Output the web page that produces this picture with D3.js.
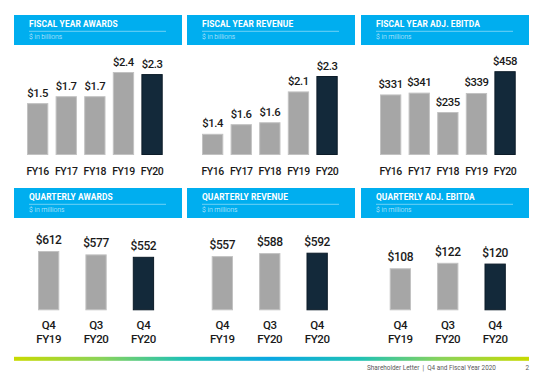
<!DOCTYPE html>
<html>
<head>
<meta charset="utf-8">
<script src="https://cdn.jsdelivr.net/npm/d3@7"></script>
<style>
  html, body { margin: 0; padding: 0; background: #ffffff; }
  svg { display: block; font-family: Roboto, "Noto Sans", sans-serif; }
</style>
</head>
<body>
<svg id="chart" width="549" height="381"></svg>
<script>
// ---------- data ----------
const fyCategories = ["FY16", "FY17", "FY18", "FY19", "FY20"];
const qCategories = ["Q4 FY19", "Q3 FY20", "Q4 FY20"];

const fyAwards = [1.50, 1.70, 1.70, 2.40, 2.34];
const fyAwardsLabels = ["$1.5", "$1.7", "$1.7", "$2.4", "$2.3"];

const fyRevenue = [1.40, 1.55, 1.58, 2.06, 2.30];
const fyRevenueLabels = ["$1.4", "$1.6", "$1.6", "$2.1", "$2.3"];

const fyEbitda = [331, 341, 235, 339, 458];
const fyEbitdaLabels = ["$331", "$341", "$235", "$339", "$458"];

const qAwards = [612, 577, 552];
const qAwardsLabels = ["$612", "$577", "$552"];

const qRevenue = [557, 588, 592];
const qRevenueLabels = ["$557", "$588", "$592"];

const qEbitda = [108, 122, 120];
const qEbitdaLabels = ["$108", "$122", "$120"];

const titles = ["FISCAL YEAR AWARDS", "FISCAL YEAR REVENUE", "FISCAL YEAR ADJ. EBITDA",
                "QUARTERLY AWARDS", "QUARTERLY REVENUE", "QUARTERLY ADJ. EBITDA"];
const subtitles = ["$ in billions", "$ in billions", "$ in millions",
                   "$ in millions", "$ in millions", "$ in millions"];

// ---------- layout ----------
const panels = [
  { cats: fyCategories, values: fyAwards,  labels: fyAwardsLabels,  px: 14,  py: 15,  barX0: 27,    dMin: 0,    topY: 72 },
  { cats: fyCategories, values: fyRevenue, labels: fyRevenueLabels, px: 187, py: 15,  barX0: 202,   dMin: 1.07, topY: 76 },
  { cats: fyCategories, values: fyEbitda,  labels: fyEbitdaLabels,  px: 361, py: 15,  barX0: 380,   dMin: 0,    topY: 71.2 },
  { cats: qCategories,  values: qAwards,   labels: qAwardsLabels,   px: 14,  py: 188, barX0: 38,    dMin: 0,    topY: 251 },
  { cats: qCategories,  values: qRevenue,  labels: qRevenueLabels,  px: 187, py: 188, barX0: 211.7, dMin: 0,    topY: 252.7 },
  { cats: qCategories,  values: qEbitda,   labels: qEbitdaLabels,   px: 361, py: 188, barX0: 389.7, dMin: 0,    topY: 262.8 }
];

const svg = d3.select("#chart");
svg.append("rect").attr("width", 549).attr("height", 381).attr("fill", "#ffffff");

const headerW = 168, headerH = 30;
const blue = "#00aeef";

panels.forEach((p, i) => {
  const isQ = i >= 3;
  const g = svg.append("g");

  // header
  g.append("rect").attr("x", p.px).attr("y", p.py).attr("width", headerW).attr("height", headerH).attr("fill", blue);
  g.append("text").attr("x", p.px + 15).attr("y", p.py + 12.3)
    .attr("fill", "#ffffff").attr("font-size", 8.4).attr("font-weight", 700)
    .attr("letter-spacing", 0.1).text(titles[i]);
  g.append("line").attr("x1", p.px + 15).attr("x2", p.px + 152)
    .attr("y1", p.py + 16.3).attr("y2", p.py + 16.3)
    .attr("stroke", "rgba(255,255,255,0.55)").attr("stroke-width", 0.8);
  g.append("text").attr("x", p.px + 15).attr("y", p.py + 23.6)
    .attr("fill", "rgba(255,255,255,0.85)").attr("font-size", 6.8).attr("font-weight", 300)
    .text(subtitles[i]);

  // scales
  const step = isQ ? 47.4 : 28.6;
  const bw = 21.3;
  const n = p.cats.length;
  const width = (n - 1) * step + bw;
  const x = d3.scaleBand().domain(p.cats).range([p.barX0, p.barX0 + width])
    .paddingInner(1 - bw / step).paddingOuter(0);
  const bottom = isQ ? 310.3 : 155;
  const y = d3.scaleLinear().domain([p.dMin, d3.max(p.values)]).range([bottom, p.topY]);

  // bars
  g.selectAll("rect.bar").data(p.values).join("rect")
    .attr("class", "bar")
    .attr("x", (d, j) => x(p.cats[j]) + 0.5)
    .attr("width", x.bandwidth() - 1)
    .attr("y", d => y(d) + 0.5)
    .attr("height", d => bottom - y(d) - 1)
    .attr("fill", (d, j) => j === n - 1 ? "#13293a" : "#a6a6a6")
    .attr("stroke", (d, j) => j === n - 1 ? "#0c1c29" : "#c2c2c2")
    .attr("stroke-width", 1);

  // value labels
  g.selectAll("text.val").data(p.values).join("text")
    .attr("class", "val")
    .attr("x", (d, j) => x(p.cats[j]) + x.bandwidth() / 2)
    .attr("y", d => y(d) - (isQ ? 7 : 6.5))
    .attr("text-anchor", "middle")
    .attr("fill", "#1a1a1a")
    .attr("font-size", isQ ? 12 : 11.3)
    .attr("font-weight", 500)
    .attr("letter-spacing", -0.4)
    .text((d, j) => p.labels[j]);

  // category axis
  const axis = d3.axisBottom(x).tickSize(0).tickSizeOuter(0).tickPadding(0);
  const ag = g.append("g").attr("transform", `translate(0,${bottom})`).call(axis);
  ag.select(".domain").remove();
  ag.selectAll("text")
    .attr("font-family", "Roboto, sans-serif")
    .attr("fill", "#1a1a1a")
    .attr("font-weight", 500)
    .attr("font-size", isQ ? 11.5 : 10.5)
    .attr("letter-spacing", -0.4)
    .attr("dy", null)
    .each(function(d) {
      const t = d3.select(this);
      if (isQ) {
        const parts = d.split(" ");
        t.text(null).attr("y", 0);
        t.append("tspan").attr("x", 0).attr("y", 329 - bottom).text(parts[0]);
        t.append("tspan").attr("x", 0).attr("y", 343 - bottom).text(parts[1]);
      } else {
        t.attr("y", 175 - bottom);
      }
    });
});

// gradient rule
const defs = svg.append("defs");
const grad = defs.append("linearGradient").attr("id", "rule")
  .attr("gradientUnits", "userSpaceOnUse").attr("x1", 14).attr("x2", 529).attr("y1", 0).attr("y2", 0);
[[0, "#c8da00"], [0.17, "#8ad35a"], [0.33, "#1fc1b5"], [0.5, "#0aa7e3"],
 [0.67, "#1fc1b5"], [0.83, "#8ad35a"], [1, "#c8da00"]].forEach(s =>
  grad.append("stop").attr("offset", s[0]).attr("stop-color", s[1]));
svg.append("rect").attr("x", 14).attr("y", 356.8).attr("width", 515).attr("height", 4).attr("fill", "url(#rule)");

// footer
svg.append("text").attr("x", 367).attr("y", 369.5).attr("font-size", 6.4).attr("fill", "#595959")
  .attr("xml:space", "preserve").text("Shareholder Letter  |  Q4 and Fiscal Year 2020");
svg.append("text").attr("x", 525.5).attr("y", 369.5).attr("font-size", 6.4).attr("fill", "#595959").text("2");
</script>
</body>
</html>
